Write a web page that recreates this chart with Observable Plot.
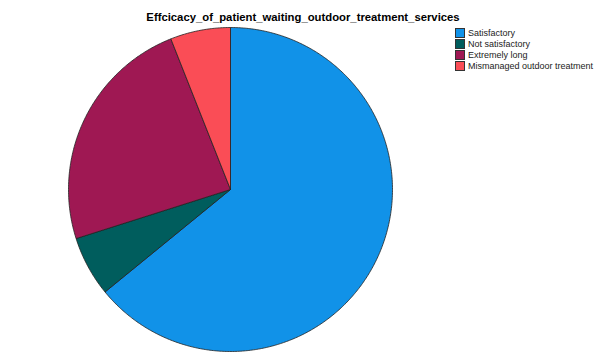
<!DOCTYPE html>
<html><head><meta charset="utf-8">
<script src="https://cdn.jsdelivr.net/npm/d3@7"></script>
<script src="https://cdn.jsdelivr.net/npm/@observablehq/plot@0.6"></script>
<style>
body{margin:0;background:#fff;font-family:"Liberation Sans",Arial,sans-serif;}
#wrap{position:relative;width:606px;height:358px;}
#title{position:absolute;left:0;width:606px;top:11px;text-align:center;font-size:11.3px;font-weight:bold;color:#000;padding-left:0;}
#legend{position:absolute;left:455px;top:28px;font-size:9px;color:#222;white-space:nowrap;}
.item{display:flex;align-items:center;height:10.8px;white-space:nowrap;}
.sw{width:8px;height:8px;border:1px solid #333;margin-right:3px;box-sizing:content-box;flex:none;}
</style></head>
<body><div id="wrap"><div id="chart"></div><div id="title"></div><div id="legend"></div></div>
<script>
const title = "Effcicacy_of_patient_waiting_outdoor_treatment_services";
const categories = ["Satisfactory", "Not satisfactory", "Extremely long", "Mismanaged outdoor treatment"];
const values = [64.1, 6.0, 23.9, 6.0];
const colors = ["#1192e8", "#005d5d", "#9f1853", "#fa4d56"];

const pie = d3.pie().sort(null).value(d => d.value)(categories.map((c, i) => ({category: c, value: values[i]})));
const pts = [];
for (const a of pie) {
  const n = Math.max(2, Math.ceil((a.endAngle - a.startAngle) / 0.01));
  pts.push({category: a.data.category, x: 0, y: 0});
  for (let k = 0; k <= n; k++) {
    const t = a.startAngle + (a.endAngle - a.startAngle) * k / n;
    pts.push({category: a.data.category, x: Math.sin(t), y: Math.cos(t)});
  }
  pts.push({category: a.data.category, x: 0, y: 0});
}

const chart = Plot.plot({
  width: 606, height: 358,
  margin: 0,
  x: {domain: [-1, 1], range: [68, 392], axis: null},
  y: {domain: [-1, 1], range: [351, 27], axis: null},
  color: {domain: categories, range: colors},
  marks: [
    Plot.line(pts, {x: "x", y: "y", z: "category", fill: "category", stroke: "#222", strokeWidth: 0.8, curve: "linear", strokeLinejoin: "round"})
  ]
});
document.getElementById("chart").appendChild(chart);
document.getElementById("title").textContent = title;
const lg = document.getElementById("legend");
categories.forEach((c, i) => {
  const d = document.createElement("div"); d.className = "item";
  const s = document.createElement("span"); s.className = "sw"; s.style.background = colors[i];
  const t = document.createElement("span"); t.textContent = c;
  d.appendChild(s); d.appendChild(t); lg.appendChild(d);
});
</script></body></html>
